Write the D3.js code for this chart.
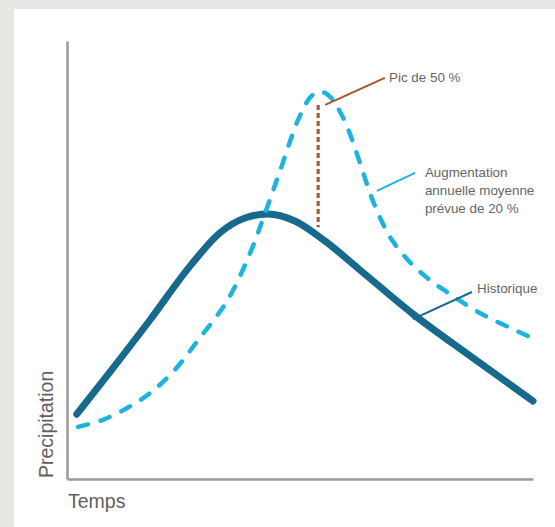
<!DOCTYPE html>
<html>
<head>
<meta charset="utf-8">
<script src="https://cdn.jsdelivr.net/npm/d3@7"></script>
<style>
  html, body { margin: 0; padding: 0; background: #e8e6e2; }
  svg { display: block; }
</style>
</head>
<body>
<svg id="chart" width="555" height="527"></svg>
<script>
// ---- data (time and precipitation in arbitrary units 0-100) ----
const historiqueTime   = [2.1, 9.2, 17.8, 26.4, 32.8, 38.2, 43.1, 48.9, 55.4, 62.9, 74.2, 86.5, 100];
const historiqueValues = [14.8, 24.4, 36.3, 48.6, 56.2, 59.6, 60.5, 58.9, 54.3, 47.7, 37.7, 28.1, 17.8];

const projectionTime   = [2.4, 7.7, 12.9, 17.8, 22.7, 28.5, 34.5, 39.3, 42.5, 45.7, 49.6, 52.1, 53.9, 56.0, 59.2, 62.9, 65.0, 67.2, 69.7, 73.6, 77.9, 81.5, 88.6, 99.4];
const projectionValues = [11.9, 13.5, 16.2, 19.6, 24.4, 32.2, 40.9, 51.6, 60.7, 70.3, 82.0, 87.0, 88.4, 87.7, 82.6, 72.1, 65.3, 59.6, 54.6, 49.5, 45.4, 42.7, 37.9, 32.4];

const peakTime = 53.9;
const peakRange = [57.5, 85.4];

const labels = {
  x: "Temps",
  y: "Precipitation",
  peak: "Pic de 50 %",
  projection: ["Augmentation", "annuelle moyenne", "prévue de 20 %"],
  historique: "Historique"
};

// ---- layout ----
const svg = d3.select("#chart");
const W = 555, H = 527;
const mLeft = 67, mRight = 533, mTop = 41, mBottom = 479;

svg.append("rect").attr("x", 14).attr("y", 9).attr("width", W - 14).attr("height", H - 9).attr("fill", "#ffffff");

const x = d3.scaleLinear().domain([0, 100]).range([mLeft, mRight]);
const y = d3.scaleLinear().domain([0, 100]).range([mBottom, mTop]);

const font = "'Liberation Sans', Arial, Helvetica, sans-serif";
const axisColor = "#9a9a9a";

// axes (domain lines only)
const xAxis = svg.append("g").attr("transform", `translate(0,${mBottom})`)
  .call(d3.axisBottom(x).ticks(0).tickSizeOuter(0));
const yAxis = svg.append("g").attr("transform", `translate(${mLeft},0)`)
  .call(d3.axisLeft(y).ticks(0).tickSizeOuter(0));
[xAxis, yAxis].forEach(g => g.select(".domain").attr("stroke", axisColor).attr("stroke-width", 2.5));

svg.append("text").attr("x", mLeft + 1).attr("y", 508)
  .attr("font-family", font).attr("font-size", 19.5).attr("fill", "#5f5f5f").text(labels.x);
svg.append("text").attr("transform", `translate(53,${mBottom - 1}) rotate(-90)`)
  .attr("font-family", font).attr("font-size", 19.5).attr("fill", "#5f5f5f").text(labels.y);

// lines
const histLine = d3.line().x(d => x(d[0])).y(d => y(d[1])).curve(d3.curveMonotoneX);
const projLine = d3.line().x(d => x(d[0])).y(d => y(d[1])).curve(d3.curveCatmullRom.alpha(0.5));
const hist = historiqueTime.map((t, i) => [t, historiqueValues[i]]);
const proj = projectionTime.map((t, i) => [t, projectionValues[i]]);

svg.append("path").datum(hist).attr("d", histLine)
  .attr("fill", "none").attr("stroke", "#176a8e").attr("stroke-width", 7)
  .attr("stroke-linecap", "round").attr("stroke-linejoin", "round");

svg.append("path").datum(proj).attr("d", projLine)
  .attr("fill", "none").attr("stroke", "#1cb3e0").attr("stroke-width", 4.5)
  .attr("stroke-linecap", "round").attr("stroke-dasharray", "10,13");

// peak vertical dashed line
svg.append("line")
  .attr("x1", x(peakTime)).attr("x2", x(peakTime))
  .attr("y1", y(peakRange[1])).attr("y2", y(peakRange[0]))
  .attr("stroke", "#a9532a").attr("stroke-width", 3).attr("stroke-dasharray", "5,3");

// annotations
const txt = (xx, yy, s) => svg.append("text").attr("x", xx).attr("y", yy)
  .attr("font-family", font).attr("font-size", 13.4).attr("fill", "#666666").text(s);

// peak label
svg.append("line").attr("x1", x(55.4)).attr("y1", y(85.4)).attr("x2", x(68.2)).attr("y2", y(91.6))
  .attr("stroke", "#a9532a").attr("stroke-width", 2);
txt(x(69.1), y(91.6) + 4, labels.peak);

// projection label
svg.append("line").attr("x1", x(66.5)).attr("y1", y(65.8)).attr("x2", x(74.7)).attr("y2", y(69.9))
  .attr("stroke", "#1cb3e0").attr("stroke-width", 2);
labels.projection.forEach((s, i) => txt(x(76.8), 177 + i * 18, s));

// historique label
svg.append("line").attr("x1", x(74.2)).attr("y1", y(36.5)).attr("x2", x(86.9)).attr("y2", y(42.7))
  .attr("stroke", "#176a8e").attr("stroke-width", 2);
txt(x(88.0), y(42.7) + 1, labels.historique);
</script>
</body>
</html>
